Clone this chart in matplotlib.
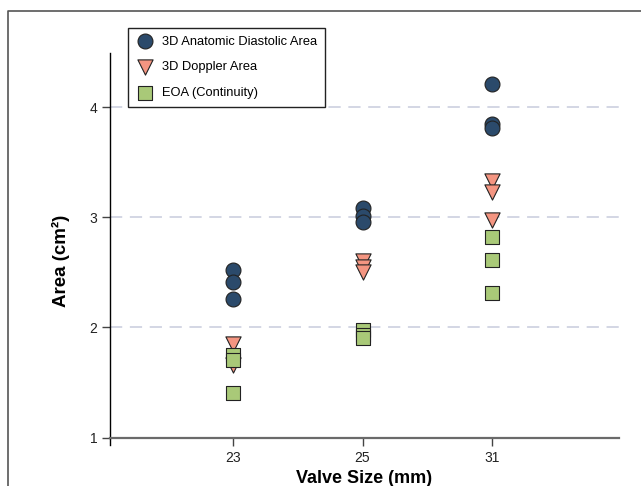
import matplotlib.pyplot as plt
from matplotlib.lines import Line2D

plt.rcParams['font.family'] = ['Liberation Sans', 'DejaVu Sans']

# Valve sizes and measured areas (cm2), three patients per size
valve_sizes = ['23', '25', '31']
anatomic = [[2.52, 2.41, 2.26], [3.09, 3.01, 2.96], [4.21, 3.85, 3.81]]
doppler = [[1.85, 1.66], [2.60, 2.55, 2.50], [3.33, 3.23, 2.98]]
eoa = [[1.75, 1.70, 1.40], [1.98, 1.93, 1.90], [2.82, 2.61, 2.31]]

fig = plt.figure(figsize=(6.41, 4.86), dpi=100)
ax = fig.add_axes([110 / 641, 48.5 / 486, 509 / 641, 384.5 / 486])

series = [
    (anatomic, '3D Anatomic Diastolic Area', 'o', '#2b4a6b', 115),
    (doppler, '3D Doppler Area', 'v', '#f49581', 120),
    (eoa, 'EOA (Continuity)', 's', '#a9c978', 95),
]
for values, label, marker, color, size in series:
    xs, ys = [], []
    for i, vals in enumerate(values):
        xs += [i + 1] * len(vals)
        ys += vals
    ax.scatter(xs, ys, s=size, marker=marker, color=color, edgecolors='#222222',
               linewidths=0.8, label=label, zorder=3)

ax.set_xlim(0.05, 3.98)
ax.set_ylim(1, 4.495)
ax.set_xticks([1, 2, 3])
ax.set_xticklabels(valve_sizes)
ax.set_yticks([1, 2, 3, 4])

# dashed reference lines
for y in [2, 3, 4]:
    ax.axhline(y, color='#c8cbdd', lw=1.1, dashes=(8, 5), zorder=1)

for side in ['top', 'right']:
    ax.spines[side].set_visible(False)
ax.spines['left'].set_color('black')
ax.spines['left'].set_linewidth(1.0)
ax.spines['bottom'].set_color('#6a6a6a')
ax.spines['bottom'].set_linewidth(1.6)
ax.plot([0, 0], [-0.02, 0], transform=ax.transAxes, color='black', lw=1.0, clip_on=False)

ax.tick_params(axis='both', direction='out', length=6, width=1, colors='#444444',
               labelcolor='#222222', labelsize=10)
ax.tick_params(axis='y', pad=3)
ax.tick_params(axis='x', pad=4)

ax.set_xlabel('Valve Size (mm)', fontsize=13, fontweight='bold', labelpad=3)
ax.set_ylabel('Area (cm²)', fontsize=13.5, fontweight='bold')
ax.yaxis.set_label_coords(-0.078, 0.46)

leg = ax.legend(loc='upper left', bbox_to_anchor=(128 / 641, 1 - 28 / 486),
                bbox_transform=fig.transFigure, borderaxespad=0, fontsize=9.3,
                fancybox=False, edgecolor='#222222', framealpha=1,
                handletextpad=0.55, labelspacing=1.05, borderpad=0.6, handlelength=1.5)
leg.get_frame().set_linewidth(1.0)

# outer panel frame
fig.add_artist(Line2D([8 / 641, 8 / 641, 1], [0, 1 - 11 / 486, 1 - 11 / 486],
                      transform=fig.transFigure, color='#555555', lw=1.2))

fig.savefig('out.png', dpi=100)
